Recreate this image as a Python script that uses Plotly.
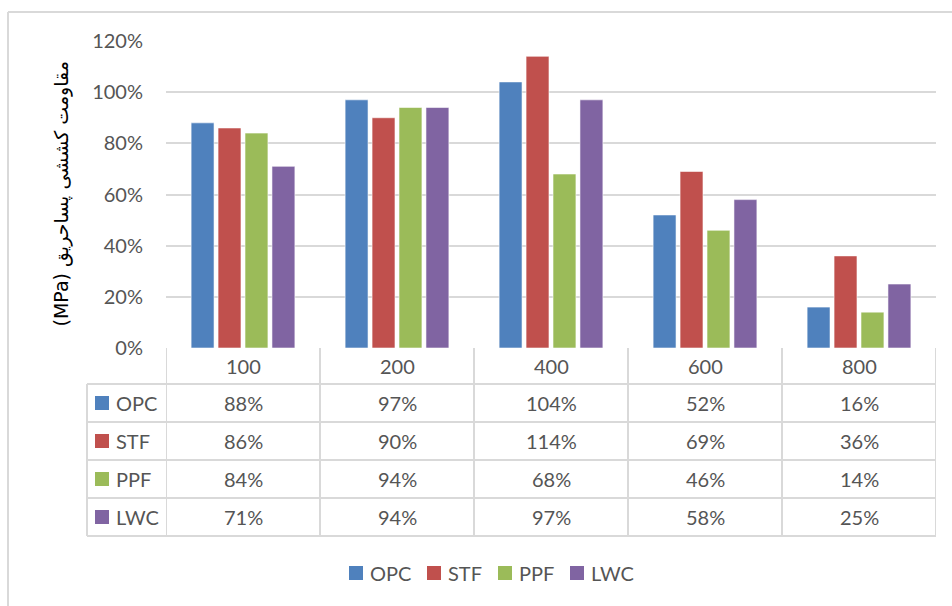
import plotly.graph_objects as go

# ---------------- data ----------------
categories = ["100", "200", "400", "600", "800"]
series_names = ["OPC", "STF", "PPF", "LWC"]
opc = [0.88, 0.97, 1.04, 0.52, 0.16]
stf = [0.86, 0.90, 1.14, 0.69, 0.36]
ppf = [0.84, 0.94, 0.68, 0.46, 0.14]
lwc = [0.71, 0.94, 0.97, 0.58, 0.25]
series_values = [opc, stf, ppf, lwc]
colors = ["#4F81BD", "#C0504D", "#9BBB59", "#8064A2"]
y_ticks = [0, 0.2, 0.4, 0.6, 0.8, 1.0, 1.2]
y_title = "(MPa) مقاومت کششی پساحریق"

# ---------------- geometry (pixels) ----------------
W, H = 952, 606
L, R, T, B = 166, 16, 41, 258
PW, PH = W - L - R, H - T - B
FONT = "Lato, 'Open Sans', sans-serif"
GREY = "#555555"
LINE = "#d9d9d9"


def px_x(px):
    return (px - L) / PW


def px_y(py):
    return (H - B - py) / PH


fig = go.Figure()
for name, vals, col in zip(series_names, series_values, colors):
    fig.add_trace(go.Bar(
        x=categories, y=vals, name=name, showlegend=False,
        marker=dict(color=col, line=dict(color="rgba(255,255,255,0.55)", width=1)),
    ))

shapes = []
annotations = []

# table geometry
header_top, header_bot = 348, 384
row_h = 38
row_tops = [header_bot + i * row_h for i in range(len(series_names))]
table_bot = row_tops[-1] + row_h
key_left = 87

# horizontal table lines
for yy in [header_bot] + [t + row_h for t in row_tops]:
    shapes.append(dict(type="line", xref="paper", yref="paper",
                       x0=px_x(key_left), x1=1, y0=px_y(yy), y1=px_y(yy),
                       line=dict(color=LINE, width=2)))
# vertical lines at category boundaries
for i in range(len(categories) + 1):
    shapes.append(dict(type="line", xref="x", yref="paper",
                       x0=i - 0.5, x1=i - 0.5, y0=px_y(header_top), y1=px_y(table_bot),
                       line=dict(color=LINE, width=2)))
# key column left border
shapes.append(dict(type="line", xref="paper", yref="paper",
                   x0=px_x(key_left), x1=px_x(key_left), y0=px_y(header_bot), y1=px_y(table_bot),
                   line=dict(color=LINE, width=2)))

# header labels
for i, c in enumerate(categories):
    annotations.append(dict(x=i, xref="x", y=px_y((header_top + header_bot) / 2), yref="paper",
                            text=c, showarrow=False, xanchor="center", yanchor="middle",
                            font=dict(family=FONT, size=20, color=GREY)))
# rows
for r, (name, vals, col) in enumerate(zip(series_names, series_values, colors)):
    yc = row_tops[r] + row_h / 2
    shapes.append(dict(type="rect", xref="paper", yref="paper",
                       x0=px_x(95), x1=px_x(109), y0=px_y(yc - 7), y1=px_y(yc + 7),
                       fillcolor=col, line=dict(width=0)))
    annotations.append(dict(x=px_x(114), xref="paper", y=px_y(yc), yref="paper",
                            text=name, showarrow=False, xanchor="left", yanchor="middle",
                            font=dict(family=FONT, size=20, color=GREY)))
    for i, v in enumerate(vals):
        annotations.append(dict(x=i, xref="x", y=px_y(yc), yref="paper",
                                text=f"{round(v * 100)}%", showarrow=False,
                                xanchor="center", yanchor="middle",
                                font=dict(family=FONT, size=20, color=GREY)))

# bottom legend (drawn manually to match the reference spacing)
legend_x = [349, 427, 498, 570]
legend_y = 573
for name, col, lx in zip(series_names, colors, legend_x):
    shapes.append(dict(type="rect", xref="paper", yref="paper",
                       x0=px_x(lx), x1=px_x(lx + 14), y0=px_y(legend_y - 7), y1=px_y(legend_y + 7),
                       fillcolor=col, line=dict(width=0)))
    annotations.append(dict(x=px_x(lx + 19), xref="paper", y=px_y(legend_y), yref="paper",
                            text=name, showarrow=False, xanchor="left", yanchor="middle",
                            font=dict(family=FONT, size=20, color=GREY)))

# y-axis title (Persian)
annotations.append(dict(x=px_x(61), xref="paper", y=0.5, yref="paper",
                        text=y_title, textangle=-90, showarrow=False,
                        xanchor="center", yanchor="middle",
                        font=dict(family="DejaVu Sans, sans-serif", size=19, color="#000000")))

# outer chart border (top and left)
shapes.append(dict(type="line", xref="paper", yref="paper",
                   x0=px_x(8), x1=px_x(W), y0=px_y(12), y1=px_y(12),
                   line=dict(color=LINE, width=2)))
shapes.append(dict(type="line", xref="paper", yref="paper",
                   x0=px_x(8), x1=px_x(8), y0=px_y(12), y1=px_y(H),
                   line=dict(color=LINE, width=2)))

fig.update_layout(
    width=W, height=H,
    margin=dict(l=L, r=R, t=T, b=B),
    paper_bgcolor="white", plot_bgcolor="white",
    barmode="group", bargap=0.3, bargroupgap=0.15,
    font=dict(family=FONT, size=20, color=GREY),
    xaxis=dict(type="category", range=[-0.5, len(categories) - 0.5],
               showticklabels=False, showgrid=False, zeroline=False, showline=False, ticks=""),
    yaxis=dict(range=[0, 1.2], tickvals=y_ticks, tickformat=".0%",
               showgrid=True, gridcolor=LINE, gridwidth=2, zeroline=False, showline=False,
               ticklabelstandoff=22, tickfont=dict(family=FONT, size=20, color=GREY)),
    showlegend=False,
    shapes=shapes,
    annotations=annotations,
)

fig.write_html("out.html", config={"displayModeBar": False},
               post_script="document.body.style.margin='0';")
